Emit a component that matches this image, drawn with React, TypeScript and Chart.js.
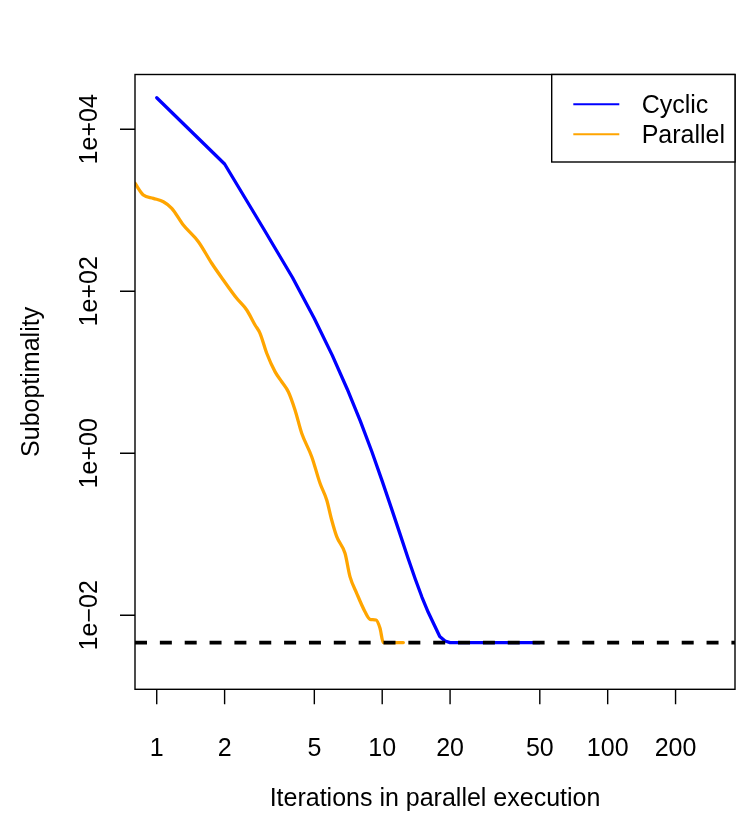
import { useEffect, useRef } from 'react';
import { Chart, registerables } from 'chart.js';

Chart.register(...registerables);

// Axis limits (log scales)
const X_MIN = 0.801;
const X_MAX = 367;
const Y_MIN = 0.00122;
const Y_MAX = 47500;

// Tick positions and labels
const X_TICKS = [1, 2, 5, 10, 20, 50, 100, 200];
const X_TICK_LABELS = ['1', '2', '5', '10', '20', '50', '100', '200'];
const Y_TICKS = [1e-2, 1, 1e2, 1e4];
const Y_TICK_LABELS = ['1e\u221202', '1e+00', '1e+02', '1e+04'];

// Optimal objective gap reference level
const OPTIMUM = 0.0046;

// Cyclic coordinate descent
const CYCLIC_ITER = [1, 2, 3, 4, 5, 6, 7, 8, 9, 10, 11, 12, 13, 14, 15, 16, 17, 18, 19, 20, 25, 30, 40, 50];
const CYCLIC_SUBOPT = [
  24550, 3730, 571, 148, 46.1, 16.3, 6.18, 2.5, 1.045, 0.453, 0.2075, 0.1005,
  0.0513, 0.0283, 0.0168, 0.0109, 0.00764, 0.00547, 0.00482, 0.0046, 0.0046, 0.0046, 0.0046, 0.0046,
];

// Parallel coordinate descent
const PARALLEL_ITER = [
  0.801, 0.872, 0.966, 1.07, 1.166, 1.312, 1.53, 1.753, 1.974, 2.263, 2.507, 2.729,
  2.872, 3.075, 3.346, 3.584, 3.833, 4.105, 4.395, 4.868, 5.3, 5.674, 5.97, 6.285,
  6.839, 7.196, 7.707, 8.389, 8.831, 9.386, 9.78, 10.11, 12.41,
];
const PARALLEL_SUBOPT = [
  2154, 1545, 1406, 1277, 1059, 659, 410, 222, 138, 82.0, 58.8, 38.4,
  30.3, 17.2, 10.2, 7.65, 5.76, 3.43, 1.77, 0.908, 0.426, 0.265, 0.15, 0.0934,
  0.0582, 0.03, 0.0187, 0.01107, 0.00893, 0.00875, 0.00692, 0.0046, 0.0046,
];

const FONT = '"Liberation Sans", Arial, Helvetica, sans-serif';
const FONT_SIZE = 25;

const toPoints = (xs: number[], ys: number[]) => xs.map((x, i) => ({ x, y: ys[i] }));

// Base-graphics style frame: box, outward ticks, rotated y labels, titles, legend
const framePlugin = {
  id: 'baseFrame',
  afterDatasetsDraw(chart: any) {
    const { ctx, chartArea: a, scales } = chart;
    const xs = scales.x;
    const ys = scales.y;
    const tickLen = 15;
    ctx.save();
    ctx.strokeStyle = '#000';
    ctx.fillStyle = '#000';
    ctx.lineWidth = 1.4;
    ctx.strokeRect(a.left, a.top, a.right - a.left, a.bottom - a.top);

    ctx.beginPath();
    X_TICKS.forEach((v) => {
      const px = xs.getPixelForValue(v);
      ctx.moveTo(px, a.bottom);
      ctx.lineTo(px, a.bottom + tickLen);
    });
    Y_TICKS.forEach((v) => {
      const py = ys.getPixelForValue(v);
      ctx.moveTo(a.left, py);
      ctx.lineTo(a.left - tickLen, py);
    });
    ctx.stroke();

    ctx.font = `${FONT_SIZE}px ${FONT}`;
    ctx.textAlign = 'center';
    ctx.textBaseline = 'alphabetic';
    X_TICKS.forEach((v, i) => {
      ctx.fillText(X_TICK_LABELS[i], xs.getPixelForValue(v), a.bottom + 67);
    });
    Y_TICKS.forEach((v, i) => {
      ctx.save();
      ctx.translate(a.left - 37.7, ys.getPixelForValue(v));
      ctx.rotate(-Math.PI / 2);
      ctx.fillText(Y_TICK_LABELS[i], 0, 0);
      ctx.restore();
    });

    ctx.fillText('Iterations in parallel execution', (a.left + a.right) / 2, a.bottom + 116.3);
    ctx.save();
    ctx.translate(39.3, (a.top + a.bottom) / 2);
    ctx.rotate(-Math.PI / 2);
    ctx.fillText('Suboptimality', 0, 0);
    ctx.restore();

    // Legend (top right)
    const lx0 = 551.7;
    const lyBottom = 162;
    ctx.fillStyle = '#fff';
    ctx.fillRect(lx0, a.top, a.right - lx0, lyBottom - a.top);
    ctx.lineWidth = 1.4;
    ctx.strokeRect(lx0, a.top, a.right - lx0, lyBottom - a.top);
    const entries = chart.data.datasets.filter((d: any) => d.label !== 'optimum').reverse();
    entries.forEach((d: any, i: number) => {
      const cy = a.top + 29.8 + i * 30;
      ctx.strokeStyle = d.borderColor;
      ctx.lineWidth = 2;
      ctx.beginPath();
      ctx.moveTo(573.3, cy);
      ctx.lineTo(619.3, cy);
      ctx.stroke();
      ctx.fillStyle = '#000';
      ctx.textAlign = 'left';
      ctx.fillText(d.label, 641.7, cy + 9);
    });
    ctx.restore();
  },
};

export default function App() {
  const canvasRef = useRef<HTMLCanvasElement | null>(null);

  useEffect(() => {
    const canvas = canvasRef.current;
    if (!canvas) return;
    const chart = new Chart(canvas, {
      type: 'line',
      data: {
        datasets: [
          {
            label: 'optimum',
            data: [
              { x: X_MIN, y: OPTIMUM },
              { x: X_MAX, y: OPTIMUM },
            ],
            borderColor: '#000000',
            borderWidth: 3.6,
            borderDash: [12, 12.85],
            borderCapStyle: 'butt',
            pointRadius: 0,
            order: 0,
          },
          {
            label: 'Parallel',
            data: toPoints(PARALLEL_ITER, PARALLEL_SUBOPT),
            borderColor: '#FFA500',
            borderWidth: 3.3,
            borderCapStyle: 'round',
            borderJoinStyle: 'round',
            cubicInterpolationMode: 'monotone',
            pointRadius: 0,
            order: 1,
          },
          {
            label: 'Cyclic',
            data: toPoints(CYCLIC_ITER, CYCLIC_SUBOPT),
            borderColor: '#0000FF',
            borderWidth: 3.3,
            borderCapStyle: 'round',
            borderJoinStyle: 'round',
            tension: 0,
            pointRadius: 0,
            order: 2,
          },
        ],
      } as any,
      options: {
        responsive: false,
        animation: false,
        devicePixelRatio: 1,
        layout: { padding: { left: 135, right: 15, top: 74.5, bottom: 135.7 } },
        scales: {
          x: { type: 'logarithmic', min: X_MIN, max: X_MAX, display: false },
          y: { type: 'logarithmic', min: Y_MIN, max: Y_MAX, display: false },
        },
        plugins: {
          legend: { display: false },
          tooltip: { enabled: false },
        },
        events: [],
      } as any,
      plugins: [framePlugin],
    });
    return () => chart.destroy();
  }, []);

  return (
    <div style={{ position: 'absolute', left: 0, top: 0, width: 750, height: 825, background: '#fff' }}>
      <canvas ref={canvasRef} width={750} height={825} style={{ display: 'block' }} />
    </div>
  );
}
